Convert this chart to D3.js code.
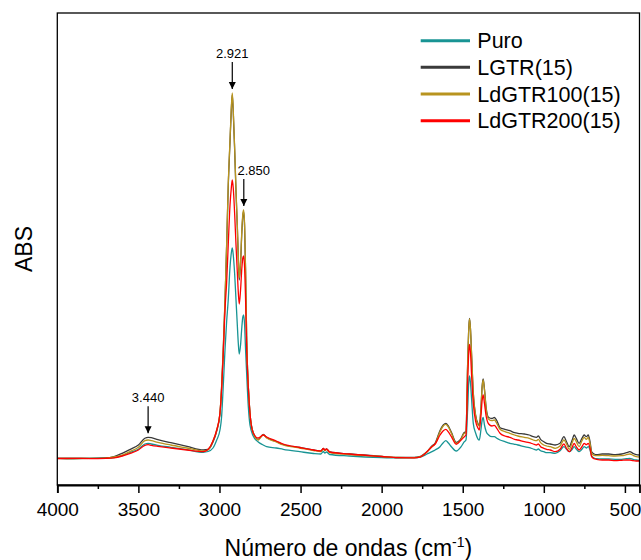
<!DOCTYPE html>
<html><head><meta charset="utf-8">
<script src="https://cdn.jsdelivr.net/npm/d3@7"></script>
<style>body{margin:0;background:#fff} svg{display:block} text{font-family:"Liberation Sans",Arial,sans-serif;fill:#000}</style>
</head><body><svg id="c" width="641" height="560"></svg>
<script>
const wavenumbers = [4000,3900,3800,3700,3650,3600,3550,3500,3460,3440,3420,3380,3300,3200,3100,3070,3040,3017,2997,2987,2977,2966,2956,2946,2935,2927,2921,2915,2906,2898,2890,2884,2878,2870,2862,2856,2851,2845,2839,2832,2822,2812,2792,2761,2730,2709,2650,2607,2504,2420,2375,2360,2350,2340,2320,2200,2000,1900,1800,1760,1720,1690,1670,1640,1620,1604,1590,1570,1540,1510,1490,1480,1470,1462,1458,1452,1445,1435,1420,1405,1398,1388,1380,1374,1366,1355,1340,1320,1305,1290,1270,1240,1210,1180,1160,1120,1090,1065,1045,1034,1020,1000,983,960,930,900,876,860,843,825,813,800,782,765,751,738,726,715,705,690,675,640,600,560,520,490,470,450,430,410];
const puro = [0.267,0.265,0.267,0.268,0.275,0.293,0.327,0.357,0.41,0.417,0.41,0.397,0.377,0.353,0.327,0.335,0.37,0.45,0.55,0.68,0.98,1.35,1.63,1.85,2.18,2.32,2.37,2.30,2.10,1.85,1.60,1.42,1.31,1.40,1.58,1.68,1.70,1.60,1.35,1.10,0.78,0.60,0.49,0.43,0.40,0.383,0.37,0.357,0.333,0.315,0.31,0.335,0.32,0.33,0.305,0.29,0.275,0.272,0.273,0.28,0.31,0.333,0.35,0.383,0.423,0.443,0.423,0.383,0.34,0.383,0.433,0.45,0.75,1.05,1.09,1.017,0.85,0.617,0.517,0.457,0.45,0.55,0.65,0.677,0.60,0.533,0.50,0.483,0.483,0.467,0.45,0.433,0.417,0.407,0.40,0.383,0.373,0.36,0.35,0.36,0.343,0.333,0.323,0.323,0.317,0.343,0.383,0.357,0.333,0.357,0.383,0.36,0.333,0.357,0.383,0.37,0.383,0.35,0.29,0.27,0.263,0.26,0.26,0.257,0.257,0.263,0.267,0.257,0.25,0.247];
const lgtr = [0.267,0.265,0.266,0.27,0.285,0.317,0.357,0.40,0.467,0.477,0.473,0.453,0.423,0.387,0.35,0.355,0.43,0.54,0.71,0.97,1.33,1.83,2.38,2.98,3.43,3.75,3.90,3.73,3.33,2.93,2.58,2.28,2.05,2.21,2.53,2.69,2.73,2.58,2.13,1.44,0.98,0.72,0.525,0.455,0.505,0.475,0.435,0.405,0.375,0.35,0.338,0.365,0.35,0.36,0.33,0.31,0.287,0.275,0.275,0.287,0.335,0.39,0.42,0.545,0.60,0.617,0.593,0.527,0.427,0.467,0.527,0.53,1.19,1.59,1.665,1.555,1.29,0.925,0.695,0.61,0.60,0.76,0.995,1.06,0.96,0.765,0.675,0.665,0.675,0.645,0.573,0.557,0.543,0.523,0.517,0.51,0.50,0.483,0.477,0.49,0.457,0.433,0.417,0.41,0.40,0.417,0.483,0.433,0.383,0.45,0.50,0.467,0.417,0.467,0.50,0.483,0.50,0.433,0.333,0.31,0.303,0.31,0.31,0.303,0.31,0.323,0.333,0.317,0.303,0.30];
const ldgtr100 = [0.267,0.265,0.266,0.269,0.28,0.30,0.337,0.377,0.443,0.45,0.443,0.427,0.40,0.37,0.34,0.353,0.44,0.55,0.72,0.983,1.35,1.85,2.40,3.00,3.45,3.77,3.92,3.75,3.35,2.95,2.60,2.30,2.07,2.23,2.55,2.71,2.75,2.60,2.15,1.45,0.983,0.72,0.52,0.45,0.50,0.47,0.43,0.40,0.37,0.345,0.333,0.36,0.345,0.355,0.325,0.305,0.285,0.275,0.273,0.283,0.333,0.383,0.41,0.533,0.59,0.607,0.583,0.517,0.417,0.457,0.517,0.52,1.183,1.583,1.66,1.55,1.283,0.917,0.683,0.60,0.59,0.75,0.983,1.05,0.95,0.75,0.657,0.643,0.65,0.617,0.557,0.533,0.517,0.50,0.49,0.477,0.467,0.45,0.443,0.457,0.423,0.40,0.39,0.383,0.367,0.39,0.45,0.41,0.357,0.423,0.467,0.433,0.383,0.443,0.477,0.457,0.477,0.41,0.317,0.297,0.293,0.297,0.293,0.29,0.293,0.303,0.31,0.297,0.283,0.28];
const ldgtr200 = [0.265,0.267,0.264,0.267,0.272,0.29,0.317,0.35,0.397,0.403,0.397,0.387,0.37,0.35,0.333,0.357,0.44,0.55,0.72,0.95,1.30,1.75,2.02,2.40,2.80,2.97,3.05,2.97,2.70,2.40,2.13,1.93,1.81,1.95,2.17,2.27,2.29,2.17,1.85,1.35,0.97,0.72,0.52,0.47,0.50,0.48,0.44,0.41,0.375,0.35,0.34,0.365,0.35,0.36,0.33,0.31,0.285,0.273,0.272,0.282,0.333,0.383,0.41,0.50,0.543,0.557,0.533,0.483,0.407,0.45,0.483,0.50,1.017,1.35,1.407,1.317,1.083,0.817,0.633,0.567,0.55,0.683,0.85,0.90,0.817,0.683,0.61,0.59,0.597,0.567,0.517,0.49,0.477,0.457,0.45,0.433,0.423,0.41,0.40,0.41,0.383,0.367,0.357,0.35,0.333,0.357,0.41,0.367,0.333,0.377,0.417,0.383,0.35,0.383,0.417,0.403,0.417,0.367,0.283,0.263,0.257,0.25,0.25,0.243,0.247,0.25,0.25,0.243,0.24,0.24];

const seriesNames = ["Puro", "LGTR(15)", "LdGTR100(15)", "LdGTR200(15)"];
const seriesColors = ["#189494", "#3a3a3a", "#b8941f", "#ff0000"];
const seriesValues = [puro, lgtr, ldgtr100, ldgtr200];
const xTicks = [4000, 3500, 3000, 2500, 2000, 1500, 1000, 500];
const xMinorTicks = [3750, 3250, 2750, 2250, 1750, 1250, 750];
const annotWn = [2921, 2850, 3440];
const annotLabels = ["2.921", "2.850", "3.440"];
const annotSeries = [2, 2, 1];

const svg = d3.select("#c");
const L = 57.3, R = 639.5, T = 13, B = 485;
const x = d3.scaleLinear().domain([4000, 410]).range([L, R]);
const y = d3.scaleLinear().domain([0, 4.72]).range([B, T]);

const defs = svg.append("defs");
defs.append("clipPath").attr("id", "clip")
  .append("rect").attr("x", L).attr("y", T).attr("width", R - L).attr("height", B - T);

const line = d3.line()
  .x(d => x(d[0])).y(d => y(d[1]))
  .curve(d3.curveMonotoneX);

const g = svg.append("g").attr("clip-path", "url(#clip)");
seriesValues.forEach((vals, si) => {
  const pts = wavenumbers.map((w, i) => [w, vals[i]]);
  g.append("path").datum(pts)
    .attr("d", line)
    .attr("fill", "none")
    .attr("stroke", seriesColors[si])
    .attr("stroke-width", 1.3)
    .attr("stroke-linejoin", "round");
});

// frame
svg.append("rect").attr("x", L).attr("y", T).attr("width", R - L).attr("height", B - T)
  .attr("fill", "none").attr("stroke", "#000").attr("stroke-width", 1.3);

// x axis
const ax = svg.append("g").attr("transform", `translate(0,${B})`)
  .call(d3.axisBottom(x).tickValues(xTicks).tickSize(8).tickPadding(10).tickFormat(d3.format("d")));
ax.select(".domain").attr("stroke-width", 1.8);
ax.selectAll(".tick line").attr("stroke-width", 1.5);
ax.selectAll("text").style("font-size", "19px").attr("font-family", null);
const axm = svg.append("g").attr("transform", `translate(0,${B})`)
  .call(d3.axisBottom(x).tickValues(xMinorTicks).tickSize(4).tickFormat(""));
axm.select(".domain").remove();
axm.selectAll(".tick line").attr("stroke-width", 1.5);

// titles
const xt = svg.append("text").attr("x", (L + R) / 2).attr("y", 556).attr("text-anchor", "middle")
  .style("font-size", "23px");
xt.append("tspan").text("Número de ondas (cm");
xt.append("tspan").attr("dy", -9).style("font-size", "14px").text("-1");
xt.append("tspan").attr("dy", 9).text(")");

svg.append("text").attr("transform", `translate(32,${(T + B) / 2}) rotate(-90)`)
  .attr("text-anchor", "middle").style("font-size", "23px").text("ABS");

// annotations
defs.append("marker").attr("id", "ah").attr("viewBox", "0 0 10 10")
  .attr("refX", 10).attr("refY", 5).attr("markerWidth", 7).attr("markerHeight", 8)
  .attr("markerUnits", "userSpaceOnUse").attr("orient", "auto")
  .append("path").attr("d", "M0,0 L10,5 L0,10 Z").attr("fill", "#000");

const labelShift = [0, 10, 0];
annotWn.forEach((w, k) => {
  const idx = d3.minIndex(wavenumbers, d => Math.abs(d - w));
  const vals = seriesValues[annotSeries[k]];
  const px = x(w);
  const tip = y(vals[idx]) - 4;
  svg.append("line").attr("x1", px).attr("x2", px).attr("y1", tip - 27).attr("y2", tip)
    .attr("stroke", "#000").attr("stroke-width", 1.2).attr("marker-end", "url(#ah)");
  svg.append("text").attr("x", px + labelShift[k]).attr("y", tip - 31)
    .attr("text-anchor", "middle").style("font-size", "13px").text(annotLabels[k]);
});

// legend
const legY = [40.7, 67.3, 94, 120.7];
seriesNames.forEach((n, i) => {
  svg.append("line").attr("x1", 420.7).attr("x2", 470).attr("y1", legY[i]).attr("y2", legY[i])
    .attr("stroke", seriesColors[i]).attr("stroke-width", 3);
  svg.append("text").attr("x", 477.3).attr("y", legY[i] + 7.7).style("font-size", "21.5px").text(n);
});
</script></body></html>
